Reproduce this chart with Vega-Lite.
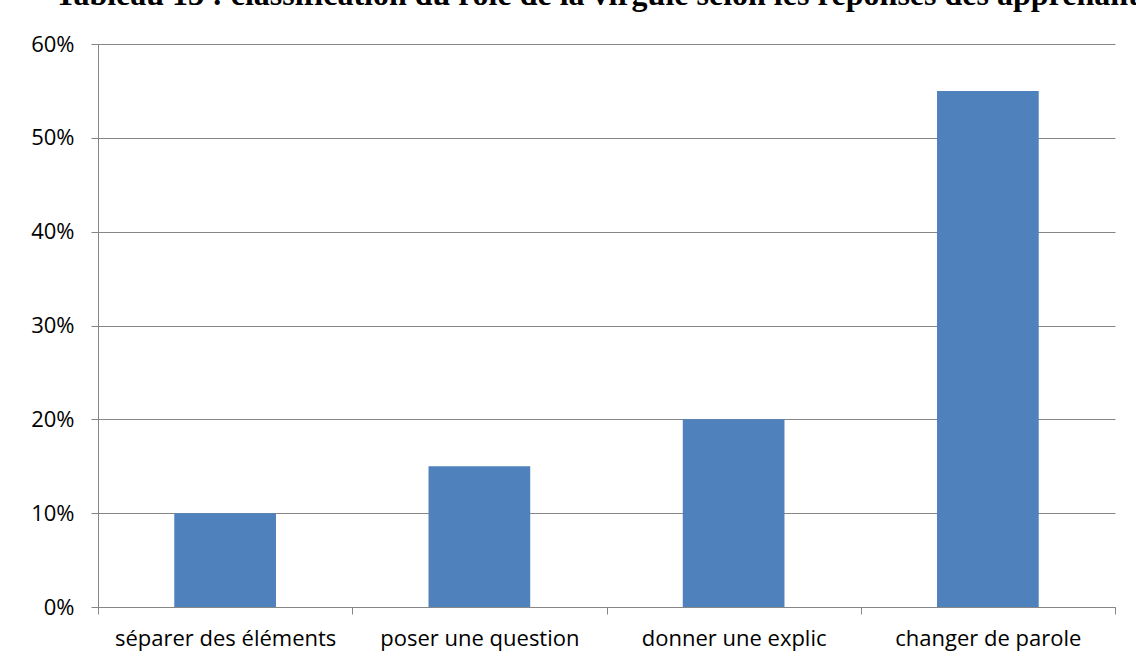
{
  "$schema": "https://vega.github.io/schema/vega-lite/v6.json",
  "width": 1017,
  "height": 563,
  "autosize": {"type": "none"},
  "padding": {"left": 98, "top": 44, "right": 21, "bottom": 60},
  "background": "white",
  "title": {
    "text": "Tableau 13 : classification du rôle de la virgule selon les réponses des apprenants",
    "anchor": "start",
    "frame": "group",
    "font": "Liberation Serif",
    "fontWeight": "bold",
    "fontSize": 32,
    "color": "#000000",
    "baseline": "alphabetic",
    "offset": 5,
    "dy": 9,
    "dx": -43
  },
  "data": {
    "values": [
      {"role": "séparer des éléments", "pct": 0.10},
      {"role": "poser une question", "pct": 0.15},
      {"role": "donner une explic", "pct": 0.20},
      {"role": "changer de parole", "pct": 0.55}
    ]
  },
  "mark": {"type": "bar", "color": "#4f81bd", "width": {"band": 0.4}},
  "encoding": {
    "x": {
      "field": "role",
      "type": "nominal",
      "sort": null,
      "scale": {"paddingInner": 0, "paddingOuter": 0},
      "axis": {
        "title": null,
        "labelAngle": 0,
        "tickBand": "extent",
        "tickSize": 7,
        "tickColor": "#868686",
        "domainColor": "#868686",
        "labelFont": "Open Sans",
        "labelFontSize": 22,
        "labelColor": "#000000",
        "labelPadding": 14,
        "labelLimit": 0,
        "grid": false
      }
    },
    "y": {
      "field": "pct",
      "type": "quantitative",
      "scale": {"domain": [0, 0.6], "nice": false},
      "axis": {
        "title": null,
        "format": ".0%",
        "values": [0, 0.1, 0.2, 0.3, 0.4, 0.5, 0.6],
        "tickSize": 7,
        "tickColor": "#868686",
        "domainColor": "#868686",
        "gridColor": "#868686",
        "labelFont": "Open Sans",
        "labelFontSize": 22,
        "labelColor": "#000000",
        "labelPadding": 17
      }
    }
  },
  "config": {"view": {"stroke": null}}
}
